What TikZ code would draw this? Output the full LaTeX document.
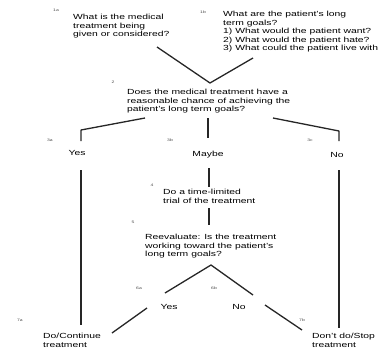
\documentclass[tikz,border=0pt]{standalone}
\usepackage{fontspec}
\setmainfont{Liberation Sans}[FakeStretch=1.4]
\begin{document}
\begin{tikzpicture}[x=1pt,y=-1pt,
  txt/.style={font=\fontsize{7.4}{8.5}\selectfont,align=left,inner sep=0pt,anchor=north west},
  ans/.style={font=\fontsize{7.4}{8.5}\selectfont,inner sep=0pt},
  lbl/.style={font=\fontsize{3.6}{4}\selectfont,inner sep=0pt,text=black!70},
  conn/.style={line width=1.3pt,black!85,line join=round}]
\useasboundingbox (0,0) rectangle (380,351);
% texts
\node[txt] (q1a) at (73,14) {What is the medical\\treatment being\\given or considered?};
\node[txt] (q1b) at (223,11) {What are the patient's long\\term goals?\\1) What would the patient want?\\2) What would the patient hate?\\3) What could the patient live with};
\node[txt] (q2) at (127,89) {Does the medical treatment have a\\reasonable chance of achieving the\\patient's long term goals?};
\node[ans] (yes) at (77,153) {Yes};
\node[ans] (maybe) at (208,155) {Maybe};
\node[ans] (no) at (337,155) {No};
\node[txt] (q4) at (163,189) {Do a time-limited\\trial of the treatment};
\node[txt] (q5) at (145,234) {Reevaluate: Is the treatment\\working toward the patient's\\long term goals?};
\node[ans] (yes2) at (169,307) {Yes};
\node[ans] (no2) at (239,307) {No};
\node[txt] (cont) at (43,333) {Do/Continue\\treatment};
\node[txt] (stop) at (312,333) {Don't do/Stop\\treatment};
% small labels
\node[lbl] (l1a) at (56,10) {1a};
\node[lbl] (l1b) at (203,12) {1b};
\node[lbl] (l2) at (113,82) {2};
\node[lbl] (l3a) at (50,140) {3a};
\node[lbl] (l3b) at (170,140) {3b};
\node[lbl] (l3c) at (310,140) {3c};
\node[lbl] (l4) at (152,185) {4};
\node[lbl] (l5) at (133,222) {5};
\node[lbl] (l6a) at (139,288) {6a};
\node[lbl] (l6b) at (214,288) {6b};
\node[lbl] (l7a) at (20,320) {7a};
\node[lbl] (l7b) at (302,320) {7b};
% coordinates
\coordinate (a1) at (157,47);
\coordinate (apex) at (210,83);
\coordinate (a2) at (253,58);
\coordinate (bl) at (145,118);
\coordinate (blc) at (81,130);
\coordinate (blb) at (81,141);
\coordinate (bm) at (208,118);
\coordinate (bmb) at (208,138);
\coordinate (br) at (273,118);
\coordinate (brc) at (339,131);
\coordinate (brb) at (339,141);
\coordinate (yt) at (81,170);
\coordinate (yb) at (81,325);
\coordinate (nt) at (339,170);
\coordinate (nb) at (339,328);
\coordinate (mt) at (209,168);
\coordinate (mb) at (209,187);
\coordinate (rt) at (209,208);
\coordinate (rb) at (209,225);
\coordinate (apex2) at (211,265);
\coordinate (c1) at (165,293);
\coordinate (c2) at (253,295);
\coordinate (d1) at (147,308);
\coordinate (d1b) at (112,333);
\coordinate (d2) at (265,305);
\coordinate (d2b) at (302,330);
% connectors
\draw[conn] (a1) -- (apex) -- (a2);
\draw[conn] (bl) -- (blc) -- (blb);
\draw[conn] (bm) -- (bmb);
\draw[conn] (br) -- (brc) -- (brb);
\draw[conn] (yt) -- (yb);
\draw[conn] (nt) -- (nb);
\draw[conn] (mt) -- (mb);
\draw[conn] (rt) -- (rb);
\draw[conn] (c1) -- (apex2) -- (c2);
\draw[conn] (d1) -- (d1b);
\draw[conn] (d2) -- (d2b);
\end{tikzpicture}
\end{document}
